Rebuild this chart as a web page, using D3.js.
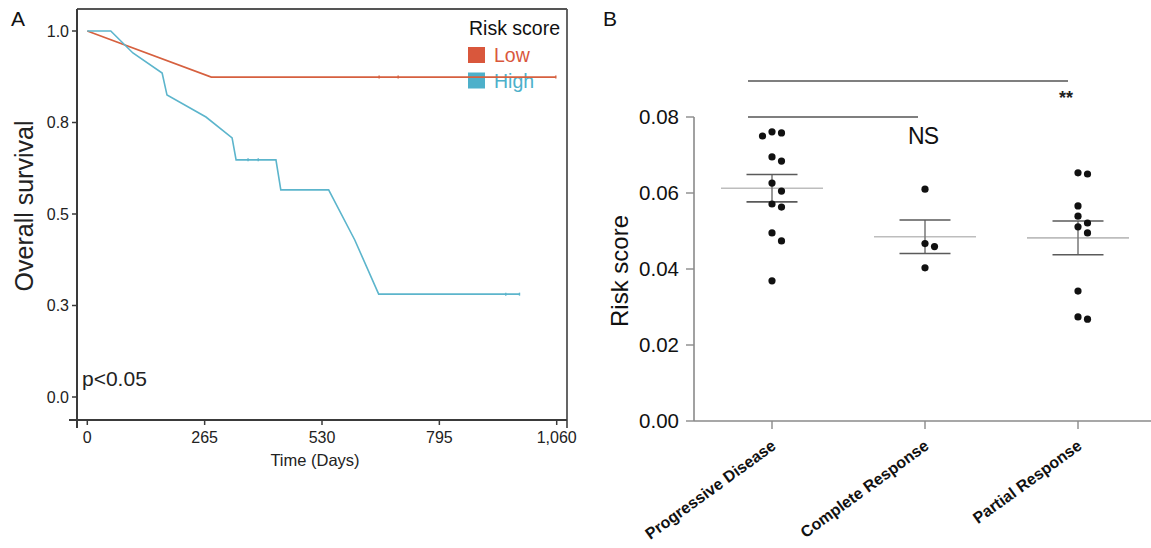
<!DOCTYPE html>
<html>
<head>
<meta charset="utf-8">
<script src="https://cdn.jsdelivr.net/npm/d3@7.9.0/dist/d3.min.js"></script>
<style>
  body { margin: 0; background: #fff; }
  svg { display: block; font-family: Arial, "Liberation Sans", sans-serif; }
</style>
</head>
<body>
<svg id="chart" width="1151" height="548"></svg>
<script>
// ---- panel A: survival curves (days, survival) ----
const lowDays = [0, 280, 1058];
const lowSurv = [1.0, 0.874, 0.874];
const lowCensor = [659, 702, 1058];

const highDays = [0, 53, 103, 169, 180, 268, 327, 336, 426, 437, 545, 604, 658, 976];
const highSurv = [1.0, 1.0, 0.94, 0.885, 0.825, 0.765, 0.708, 0.648, 0.648, 0.566, 0.566, 0.429, 0.281, 0.281];
const highCensor = [363, 386, 945, 976];

const kmXTicks = [0, 265, 530, 795, 1060];
const kmXLabels = ['0', '265', '530', '795', '1,060'];
const kmYTicks = [0, 0.25, 0.5, 0.75, 1];
const kmYLabels = ['0.0', '0.3', '0.5', '0.8', '1.0'];

const legendNames = ['Low', 'High'];
const legendColors = ['#d9573c', '#4db0ca'];

// ---- panel B: risk score by response ----
const groups = ['Progressive Disease', 'Complete Response', 'Partial Response'];
const pdScores = [0.0761, 0.0758, 0.0750, 0.0695, 0.0684, 0.0626, 0.0605, 0.0571, 0.0563, 0.0495, 0.0474, 0.0369];
const crScores = [0.0610, 0.0467, 0.0459, 0.0403];
const prScores = [0.0653, 0.0650, 0.0566, 0.0539, 0.0521, 0.0511, 0.0495, 0.0342, 0.0274, 0.0268];
const riskTicks = [0, 0.02, 0.04, 0.06, 0.08];
const comparisons = [
  { a: 'Progressive Disease', b: 'Partial Response', y: 0.0895, label: '**' },
  { a: 'Progressive Disease', b: 'Complete Response', y: 0.08, label: 'NS' },
];

const svg = d3.select('#chart');
svg.append('rect').attr('width', 1151).attr('height', 548).attr('fill', '#fff');

// ================= Panel A =================
const xA = d3.scaleLinear().domain([0, 1060]).range([87.3, 556.7]);
const yA = d3.scaleLinear().domain([0, 1]).range([397, 31]);
const frame = { left: 77, right: 567, top: 9, bottom: 420 };

const gA = svg.append('g');
const axisColor = '#3a3a3a';

// frame + axes
gA.append('line').attr('x1', frame.left).attr('x2', frame.right).attr('y1', frame.top).attr('y2', frame.top)
  .attr('stroke', '#555').attr('stroke-width', 1.8);
gA.append('line').attr('x1', frame.right).attr('x2', frame.right).attr('y1', frame.top).attr('y2', frame.bottom + 8)
  .attr('stroke', '#555').attr('stroke-width', 1.8);
gA.append('line').attr('x1', frame.left).attr('x2', frame.left).attr('y1', frame.top).attr('y2', frame.bottom + 8)
  .attr('stroke', axisColor).attr('stroke-width', 2);
gA.append('line').attr('x1', frame.left - 8).attr('x2', frame.right).attr('y1', frame.bottom).attr('y2', frame.bottom)
  .attr('stroke', axisColor).attr('stroke-width', 2);

// y ticks
kmYTicks.forEach((t, i) => {
  gA.append('line').attr('x1', frame.left - 5).attr('x2', frame.left)
    .attr('y1', yA(t)).attr('y2', yA(t)).attr('stroke', axisColor).attr('stroke-width', 1.5);
  gA.append('text').attr('x', frame.left - 8).attr('y', yA(t) + 5.5)
    .attr('text-anchor', 'end').attr('font-size', 16).attr('fill', '#222').text(kmYLabels[i]);
});
// x ticks
kmXTicks.forEach((t, i) => {
  gA.append('line').attr('x1', xA(t)).attr('x2', xA(t))
    .attr('y1', frame.bottom).attr('y2', frame.bottom + 5).attr('stroke', axisColor).attr('stroke-width', 1.5);
  gA.append('text').attr('x', xA(t)).attr('y', 443)
    .attr('text-anchor', 'middle').attr('font-size', 16).attr('fill', '#222').text(kmXLabels[i]);
});

gA.append('text').attr('x', 315).attr('y', 466).attr('text-anchor', 'middle')
  .attr('font-size', 16.5).attr('fill', '#222').text('Time (Days)');
gA.append('text').attr('transform', 'translate(33,206) rotate(-90)').attr('text-anchor', 'middle')
  .attr('font-size', 25).attr('fill', '#222').text('Overall survival');
gA.append('text').attr('x', 11).attr('y', 26).attr('font-size', 21).attr('fill', '#111').text('A');
gA.append('text').attr('x', 82).attr('y', 386).attr('font-size', 21).attr('fill', '#222').text('p<0.05');

// legend
gA.append('text').attr('x', 469).attr('y', 35).attr('font-size', 19.5).attr('fill', '#111').text('Risk score');
legendNames.forEach((name, i) => {
  gA.append('rect').attr('x', 468).attr('y', 47 + i * 25.5).attr('width', 17).attr('height', 16)
    .attr('fill', legendColors[i]);
  gA.append('text').attr('x', 494).attr('y', 62 + i * 25.5).attr('font-size', 19.5)
    .attr('fill', legendColors[i]).text(name);
});

// curves
const kmLine = d3.line().x((d) => xA(d[0])).y((d) => yA(d[1]));
const curves = [
  { days: lowDays, surv: lowSurv, censor: lowCensor, color: '#d6603f' },
  { days: highDays, surv: highSurv, censor: highCensor, color: '#5cb5cc' },
];
curves.forEach((c) => {
  const pts = c.days.map((d, i) => [d, c.surv[i]]);
  gA.append('path').attr('d', kmLine(pts)).attr('fill', 'none')
    .attr('stroke', c.color).attr('stroke-width', 1.6);
  const survAt = (t) => {
    for (let i = 0; i < pts.length - 1; i++) {
      if (t >= pts[i][0] && t <= pts[i + 1][0]) {
        const f = (t - pts[i][0]) / (pts[i + 1][0] - pts[i][0] || 1);
        return pts[i][1] + f * (pts[i + 1][1] - pts[i][1]);
      }
    }
    return pts[pts.length - 1][1];
  };
  gA.selectAll(null).data(c.censor).join('line')
    .attr('x1', (d) => xA(d)).attr('x2', (d) => xA(d))
    .attr('y1', (d) => yA(survAt(d)) - 1.5).attr('y2', (d) => yA(survAt(d)) + 1.5)
    .attr('stroke', c.color).attr('stroke-width', 1.4);
});

// ================= Panel B =================
const xB = d3.scalePoint().domain(groups).range([772, 1078]);
const yB = d3.scaleLinear().domain([0, 0.08]).range([421, 117]);
const gB = svg.append('g');
const bAxis = '#8a8a8a';

gB.append('line').attr('x1', 694).attr('x2', 694).attr('y1', yB(0.08)).attr('y2', yB(0))
  .attr('stroke', bAxis).attr('stroke-width', 1.6);
gB.append('line').attr('x1', 694).attr('x2', 1151).attr('y1', yB(0)).attr('y2', yB(0))
  .attr('stroke', bAxis).attr('stroke-width', 1.6);
riskTicks.forEach((t) => {
  gB.append('line').attr('x1', 686).attr('x2', 694).attr('y1', yB(t)).attr('y2', yB(t))
    .attr('stroke', bAxis).attr('stroke-width', 1.4);
  gB.append('text').attr('x', 679).attr('y', yB(t) + 7).attr('text-anchor', 'end')
    .attr('font-size', 20.5).attr('fill', '#111').text(t.toFixed(2));
});
groups.forEach((g) => {
  gB.append('line').attr('x1', xB(g)).attr('x2', xB(g)).attr('y1', yB(0)).attr('y2', yB(0) + 8)
    .attr('stroke', bAxis).attr('stroke-width', 1.4);
  gB.append('text').attr('transform', `translate(${xB(g) + 5},${yB(0) + 27}) rotate(-36)`)
    .attr('text-anchor', 'end').attr('font-size', 16).attr('font-weight', 'bold')
    .attr('fill', '#111').text(g);
});
gB.append('text').attr('transform', 'translate(628,271) rotate(-90)').attr('text-anchor', 'middle')
  .attr('font-size', 24).attr('fill', '#111').text('Risk score');
gB.append('text').attr('x', 603).attr('y', 26).attr('font-size', 21).attr('fill', '#111').text('B');

// simple swarm placement so close values sit side by side
function swarm(values, cx) {
  const r = 3.6, step = 9.5, placed = [];
  const order = values.map((v, i) => i).sort((a, b) => values[b] - values[a]);
  order.forEach((i) => {
    const cy = yB(values[i]);
    for (const k of [0, 1, -1, 2, -2]) {
      const x = cx + k * step;
      if (placed.every((p) => Math.hypot(p.x - x, p.y - cy) >= 2 * r + 0.8)) {
        placed.push({ x, y: cy });
        break;
      }
    }
  });
  return placed;
}

const groupData = [pdScores, crScores, prScores];
groupData.forEach((vals, gi) => {
  const cx = xB(groups[gi]);
  const mean = d3.mean(vals);
  const sem = d3.deviation(vals) / Math.sqrt(vals.length);
  // mean line
  gB.append('line').attr('x1', cx - 51).attr('x2', cx + 51).attr('y1', yB(mean)).attr('y2', yB(mean))
    .attr('stroke', '#bdbdbd').attr('stroke-width', 1.6);
  // SEM
  gB.append('line').attr('x1', cx).attr('x2', cx).attr('y1', yB(mean + sem)).attr('y2', yB(mean - sem))
    .attr('stroke', '#777').attr('stroke-width', 1.5);
  [mean + sem, mean - sem].forEach((v) => {
    gB.append('line').attr('x1', cx - 25.5).attr('x2', cx + 25.5).attr('y1', yB(v)).attr('y2', yB(v))
      .attr('stroke', '#5a5a5a').attr('stroke-width', 1.6);
  });
  gB.selectAll(null).data(swarm(vals, cx)).join('circle')
    .attr('cx', (d) => d.x).attr('cy', (d) => d.y).attr('r', 3.6).attr('fill', '#111');
});

// significance bars
comparisons.forEach((c) => {
  const x1 = xB(c.a) - 24;
  const x2 = c.label === '**' ? xB(c.b) - 10 : xB(c.b) - 7;
  gB.append('line').attr('x1', x1).attr('x2', x2).attr('y1', yB(c.y)).attr('y2', yB(c.y))
    .attr('stroke', '#555').attr('stroke-width', 1.5);
});
gB.append('text').attr('x', xB('Complete Response') - 2).attr('y', 144).attr('text-anchor', 'middle')
  .attr('font-size', 23).attr('fill', '#111').attr('letter-spacing', -1).text(comparisons[1].label);
gB.append('text').attr('x', xB('Partial Response') - 12).attr('y', 104).attr('text-anchor', 'middle')
  .attr('font-size', 18).attr('font-weight', 'bold').attr('fill', '#222').text(comparisons[0].label);
</script>
</body>
</html>
